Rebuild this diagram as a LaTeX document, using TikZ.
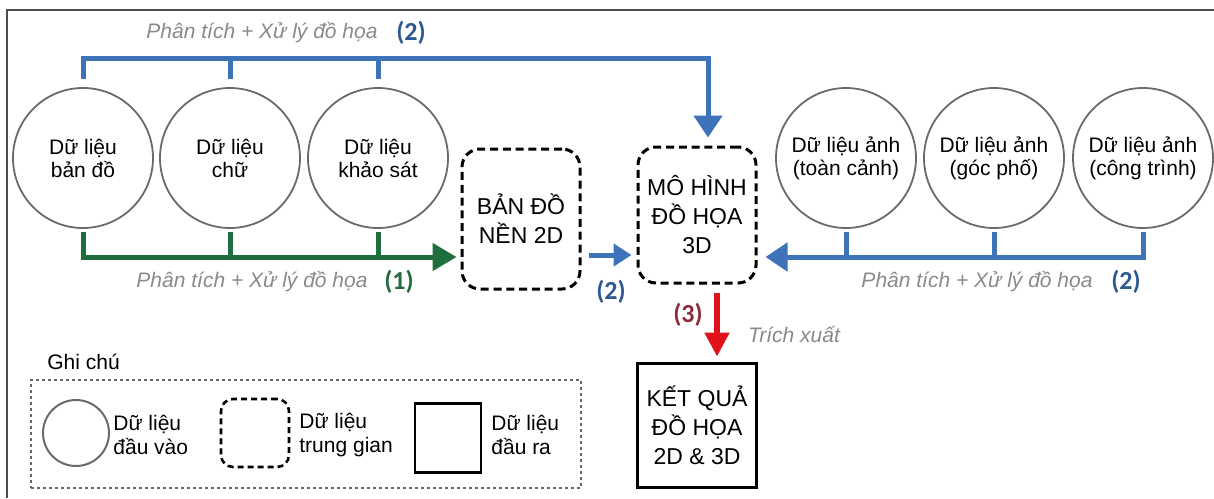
\documentclass[tikz,border=0pt]{standalone}
\usepackage{fontspec}
\setmainfont{Liberation Sans}
\newfontfamily\numfont{Carlito}
\usepackage{xcolor}
\usetikzlibrary{arrows.meta,positioning,calc}
\definecolor{flowblue}{HTML}{3E72B9}
\definecolor{tagblue}{HTML}{2C5A90}
\definecolor{flowgreen}{HTML}{1F6E3D}
\definecolor{taggreen}{HTML}{236B3E}
\definecolor{flowred}{HTML}{E2121B}
\definecolor{tagred}{HTML}{8E2B3A}
\definecolor{notegray}{HTML}{8A8A8A}
\definecolor{circgray}{HTML}{6A6A6A}

\begin{document}
\begin{tikzpicture}[x=0.5pt,y=-0.5pt,
    indata/.style={circle,draw=circgray,line width=0.9pt,minimum size=70pt,
      inner sep=0pt,align=center,font=\fontsize{10.5}{11.5}\selectfont},
    middata/.style={draw=black,line width=1.5pt,dash pattern=on 4pt off 2.4pt,
      rounded corners=9pt,minimum width=59pt,minimum height=70pt,align=center,
      font=\fontsize{11.5}{14.5}\selectfont},
    outdata/.style={draw=black,line width=1.5pt,minimum width=59.5pt,
      minimum height=62pt,align=center,font=\fontsize{11.5}{14.5}\selectfont},
    note/.style={font=\fontsize{10.5}{12}\selectfont\itshape,text=notegray,inner sep=0pt},
    tag/.style={font=\numfont\bfseries\fontsize{13}{13}\selectfont,inner sep=0pt},
    legtext/.style={align=left,anchor=west,inner sep=0pt,font=\fontsize{10.5}{12}\selectfont},
    bus/.style={line width=2.5pt,shorten <=1.5pt},
    flow/.style={line width=2.5pt,-{Triangle[length=11pt,width=14pt]}}
  ]
    \useasboundingbox (0,0) rectangle (1214,498);
    \draw[line width=1pt,draw=black!70] (7,498) -- (7,10) -- (1214,10);

    \node[indata] (map) at (83,158) {Dữ liệu\\bản đồ};
    \node[indata] (txt) at (230,158) {Dữ liệu\\chữ};
    \node[indata] (svy) at (378,158) {Dữ liệu\\khảo sát};
    \node[indata] (pano) at (846,158) {Dữ liệu ảnh\\(toàn cảnh)};
    \node[indata] (street) at (994,158) {Dữ liệu ảnh\\(góc phố)};
    \node[indata] (bldg) at (1143,158) {Dữ liệu ảnh\\(công trình)};

    \node[middata] (base) at (521,219) {BẢN ĐỒ\\NỀN 2D};
    \node[middata,minimum height=68pt] (model) at (697,215) {MÔ HÌNH\\ĐỒ HỌA\\3D};
    \node[outdata] (result) at (697,425) {KẾT QUẢ\\ĐỒ HỌA\\2D \& 3D};

    \coordinate (topbus) at (0,58);
    \coordinate (lowbus) at (0,257);

    \draw[bus,draw=flowblue,shorten <=4pt] (txt.north) -- (txt.north |- topbus);
    \draw[bus,draw=flowblue,shorten <=4pt] (svy.north) -- (svy.north |- topbus);
    \draw[flow,draw=flowblue,shorten <=4pt,shorten >=4pt]
      (map.north) -- (map.north |- topbus) -| ([xshift=5.5pt]model.north);
    \node[note] (toplbl) at (262,33) {Phân tích + Xử lý đồ họa};
    \node[tag,text=tagblue,right=9pt of toplbl] (toptag) {(2)};

    \draw[bus,draw=flowgreen] (txt.south) -- (txt.south |- lowbus);
    \draw[bus,draw=flowgreen] (svy.south) -- (svy.south |- lowbus);
    \draw[line width=2.5pt,-{Triangle[length=12pt,width=13.5pt]},draw=flowgreen,
      shorten <=1.5pt,shorten >=2pt] (map.south) -- (map.south |- lowbus) -- (base.west |- lowbus);
    \node[note] (greenlbl) at (252,282) {Phân tích + Xử lý đồ họa};
    \node[tag,text=taggreen,right=8pt of greenlbl] (greentag) {(1)};

    \draw[line width=2.5pt,-{Triangle[length=9pt,width=11pt]},draw=flowblue,
      shorten <=3.5pt,shorten >=2.5pt] (base.east |- 0,255) -- (model.west |- 0,255);
    \node[tag,text=tagblue] (midtag) at (611,292) {(2)};

    \draw[bus,draw=flowblue] (pano.south) -- (pano.south |- lowbus);
    \draw[bus,draw=flowblue] (street.south) -- (street.south |- lowbus);
    \draw[flow,draw=flowblue,shorten <=1.5pt,shorten >=4pt]
      (bldg.south) -- (bldg.south |- lowbus) -- (model.east |- lowbus);
    \node[note] (rightlbl) at (977,282) {Phân tích + Xử lý đồ họa};
    \node[tag,text=tagblue,right=9pt of rightlbl] (righttag) {(2)};

    \draw[line width=2.6pt,-{Triangle[length=12pt,width=12pt]},draw=flowred,
      shorten <=4pt,shorten >=2.5pt] ([xshift=10pt]model.south) -- ([xshift=10pt]result.north);
    \node[tag,text=tagred] (redtag) at (688,315) {(3)};
    \node[note] (extract) at (794,335) {Trích xuất};

    \node[legtext] (legtitle) at (47,362) {Ghi chú};
    \node[draw=black!60,line width=0.9pt,dash pattern=on 1.6pt off 1.4pt,
      minimum width=275pt,minimum height=54pt] (legend) at (306,434) {};
    \node[circle,draw=circgray,line width=1pt,minimum size=33pt] (legin) at (76,433) {};
    \node[legtext] (legintxt) at (113,435) {Dữ liệu\\đầu vào};
    \node[draw=black,line width=1.3pt,dash pattern=on 3pt off 2pt,rounded corners=6pt,
      minimum size=34pt] (legmid) at (255,433) {};
    \node[legtext] (legmidtxt) at (299,435) {Dữ liệu\\trung gian};
    \node[draw=black,line width=1.4pt,minimum width=33pt,minimum height=34.5pt] (legout) at (448,438) {};
    \node[legtext] (legouttxt) at (491,435) {Dữ liệu\\đầu ra};
  \end{tikzpicture}
\end{document}
